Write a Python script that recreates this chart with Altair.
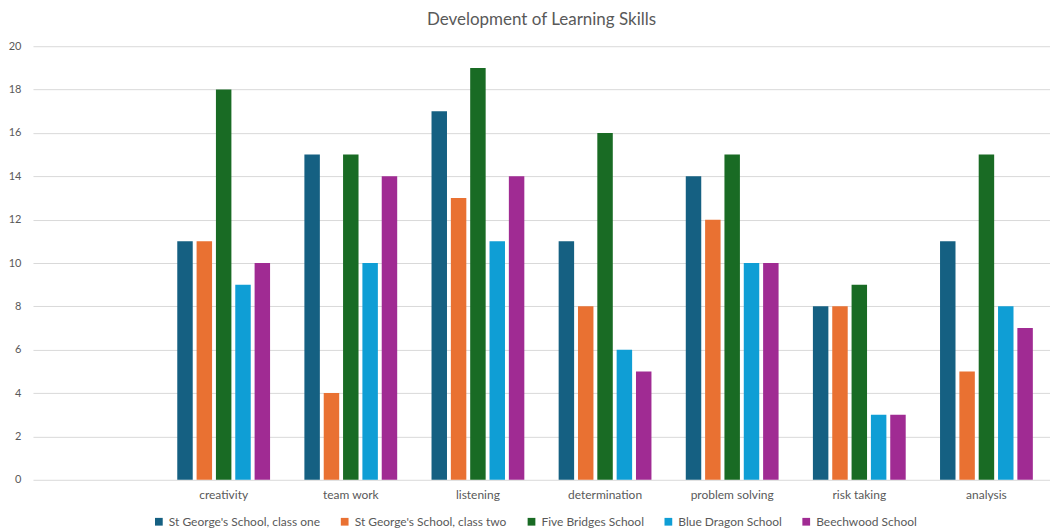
import altair as alt
import pandas as pd

categories = ["creativity", "team work", "listening", "determination",
              "problem solving", "risk taking", "analysis"]
schools = ["St George's School, class one", "St George's School, class two",
           "Five Bridges School", "Blue Dragon School", "Beechwood School"]
colors = ["#156082", "#E97132", "#196B24", "#0F9ED5", "#A02B93"]

st_george_one = [11, 15, 17, 11, 14, 8, 11]
st_george_two = [11, 4, 13, 8, 12, 8, 5]
five_bridges = [18, 15, 19, 16, 15, 9, 15]
blue_dragon = [9, 10, 11, 6, 10, 3, 8]
beechwood = [10, 14, 14, 5, 10, 3, 7]

series = [st_george_one, st_george_two, five_bridges, blue_dragon, beechwood]
rows = []
for name, vals in zip(schools, series):
    for cat, v in zip(categories, vals):
        rows.append({"skill": cat, "school": name, "value": v})
df = pd.DataFrame(rows)

FONT = "Lato"
GRAY = "#595959"

chart = alt.Chart(df).mark_bar().encode(
    x=alt.X("skill:N",
            scale=alt.Scale(domain=[" "] + categories, paddingInner=0.27, paddingOuter=0.135),
            axis=alt.Axis(title=None, labelAngle=0, ticks=False, domain=False,
                          labelPadding=10, labelFontSize=12, labelColor=GRAY, labelFont=FONT)),
    xOffset=alt.XOffset("school:N", sort=schools, scale=alt.Scale(paddingInner=0.2)),
    y=alt.Y("value:Q",
            scale=alt.Scale(domain=[0, 20]),
            axis=alt.Axis(title=None, values=list(range(0, 21, 2)), ticks=False, domain=False,
                          labelPadding=12, labelFontSize=11, labelColor=GRAY, labelFont=FONT,
                          gridColor="#d9d9d9", gridWidth=1)),
    color=alt.Color("school:N", sort=schools,
                    scale=alt.Scale(domain=schools, range=colors),
                    legend=alt.Legend(orient="none", legendX=120, legendY=470,
                                      direction="horizontal", title=None,
                                      symbolType="square", symbolSize=60, symbolStrokeWidth=0,
                                      labelFontSize=12, labelColor=GRAY, labelFont=FONT,
                                      columnPadding=18, labelLimit=300)),
).properties(
    width=1018,
    height=434,
    padding={"top": 3, "left": 0, "right": 0, "bottom": 0},
    title=alt.Title("Development of Learning Skills", fontSize=17, font=FONT,
                    color=GRAY, fontWeight="normal", offset=11),
).configure_view(stroke=None)

chart.save("out.html", embed_options={"renderer": "svg", "actions": False})
